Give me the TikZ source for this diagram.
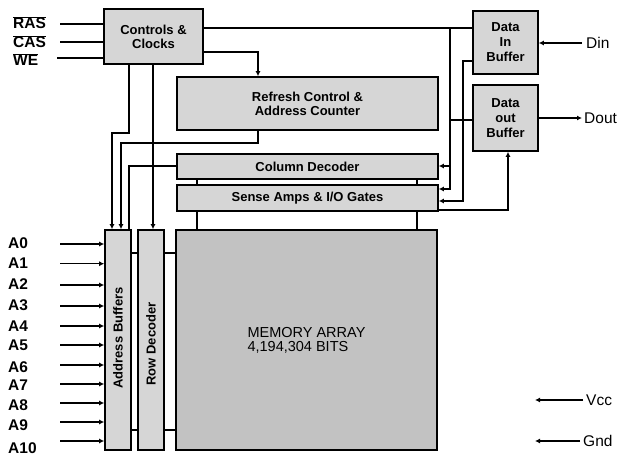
\documentclass[tikz,border=0pt]{standalone}
\usepackage{fontspec}
\setmainfont{Liberation Sans}
\usetikzlibrary{arrows.meta}
\begin{document}
\begin{tikzpicture}[x=1pt,y=-1pt,
  box/.style={draw, line width=1.6pt, fill=black!16, inner sep=0pt, align=center,
    font=\fontsize{13}{14}\selectfont\bfseries},
  membox/.style={box, fill=black!24, align=left, font=\fontsize{14.5}{14}\selectfont},
  vtext/.style={rotate=90, inner sep=0pt, font=\fontsize{13}{14}\selectfont\bfseries},
  wire/.style={line width=1.3pt},
  arr/.style={wire, -{Latex[length=5pt,width=5pt]}},
  pin/.style={font=\fontsize{15.5}{16}\selectfont\bfseries, inner sep=0pt},
  sig/.style={font=\fontsize{15.5}{16}\selectfont, inner sep=0pt}]
\useasboundingbox (0,0) rectangle (619,457);

% boxes
\node[box, minimum width=99, minimum height=55] (ctrl) at (153.5,36.5) {Controls \&\\Clocks};
\node[box, minimum width=261, minimum height=53] (refresh) at (307.5,103.5) {Refresh Control \&\\Address Counter};
\node[box, minimum width=261, minimum height=25] (coldec) at (307.5,166.5) {Column Decoder};
\node[box, minimum width=261, minimum height=26] (sense) at (307.5,198) {Sense Amps \& I/O Gates};
\node[box, minimum width=65, minimum height=63, font=\fontsize{13}{15}\selectfont\bfseries] (din) at (505.5,42.5) {Data\\In\\Buffer};
\node[box, minimum width=65, minimum height=66, font=\fontsize{13}{15}\selectfont\bfseries] (dout) at (505.5,118) {Data\\out\\Buffer};
\node[box, minimum width=26, minimum height=220] (addrbuf) at (118,340) {};
\node[box, minimum width=26, minimum height=220] (rowdec) at (151,340) {};
\node[membox, minimum width=261, minimum height=220] (mem) at (306.5,340) {MEMORY ARRAY\\4,194,304 BITS};
\node[vtext] (abtext) at (118,338) {Address Buffers};
\node[vtext] (rdtext) at (151,344) {Row Decoder};

% control inputs
\node[pin, anchor=base west] (lras) at (13,29) {$\overline{\mbox{RAS}}$};
\node[pin, anchor=base west] (lcas) at (13,48) {$\overline{\mbox{CAS}}$};
\node[pin, anchor=base west] (lwe) at (13,66) {$\overline{\mbox{WE}}$};
\coordinate (ras) at (60,24);
\coordinate (cas) at (60,42);
\coordinate (we) at (57,58);
\draw[wire] (ras) -- (ctrl.west |- ras);
\draw[wire] (cas) -- (ctrl.west |- cas);
\draw[wire] (we) -- (ctrl.west |- we);

% address inputs
\foreach \i/\ly/\ty in {0/244/249, 1/263.7/269, 2/285/290, 3/306/311, 4/326/332, 5/345/351,
                        6/365/372, 7/384/390, 8/403/410, 9/422/430, 10/441/453} {
  \node[pin, anchor=base west] (la\i) at (8,\ty) {A\i};
  \coordinate (a\i) at (60,\ly);
  \draw[arr] (a\i) -- (addrbuf.west |- a\i);
}

% control bus to data buffers and decoders
\coordinate (bus) at (450,28);
\coordinate (busdout) at (450,120);
\coordinate (buscol) at (450,166);
\draw[wire] (ctrl.east |- bus) -- (din.west |- bus);
\draw[arr] (bus) -- (450,189) -- (sense.east |- 0,189);
\draw[arr] (buscol) -- (coldec.east |- buscol);
\draw[wire] (busdout) -- (dout.west |- busdout);

% data in buffer to sense amps
\draw[arr] (din.west |- 0,61) -- (463,61) -- (463,201) -- (sense.east |- 0,201);
% sense amps to data out buffer
\draw[arr] (sense.east |- 0,210) -| ([xshift=2.5pt]dout.south);

% controls to refresh
\draw[arr] (ctrl.east |- 0,52) -| (refresh.north -| 258,0);
% controls to address buffers
\draw[arr] (ctrl.south -| 129,0) -- (129,133) -- (112,133) -- (addrbuf.north -| 112,0);
% refresh to address buffers
\draw[arr] (refresh.south -| 258,0) -- (258,143) -- (121,143) -- (addrbuf.north -| 121,0);
% column decoder to address buffers
\draw[wire] (coldec.west |- 0,166) -- (129,166) -- (addrbuf.north -| 129,0);
% controls to row decoder
\draw[arr] (ctrl.south -| 153,0) -- (rowdec.north -| 153,0);

% short links
\foreach \yy in {253,430} {
  \draw[wire] (addrbuf.east |- 0,\yy) -- (rowdec.west |- 0,\yy);
  \draw[wire] (rowdec.east |- 0,\yy) -- (mem.west |- 0,\yy);
}
\foreach \xx in {197,417} {
  \draw[wire] (coldec.south -| \xx,0) -- (sense.north -| \xx,0);
  \draw[wire] (sense.south -| \xx,0) -- (mem.north -| \xx,0);
}

% Din / Dout
\coordinate (dinsrc) at (582,43);
\draw[arr] (dinsrc) -- (din.east |- dinsrc);
\node[sig, anchor=west] (ldin) at (586,43) {Din};
\coordinate (doutend) at (582,118);
\draw[arr] (dout.east |- doutend) -- (doutend);
\node[sig, anchor=west] (ldout) at (584,118) {Dout};

% power
\coordinate (vccsrc) at (583,400);
\coordinate (vccend) at (535,400);
\draw[arr] (vccsrc) -- (vccend);
\node[sig, anchor=west] (lvcc) at (586,400) {Vcc};
\coordinate (gndsrc) at (580,441);
\coordinate (gndend) at (535,441);
\draw[arr] (gndsrc) -- (gndend);
\node[sig, anchor=west] (lgnd) at (583,441) {Gnd};
\end{tikzpicture}
\end{document}
